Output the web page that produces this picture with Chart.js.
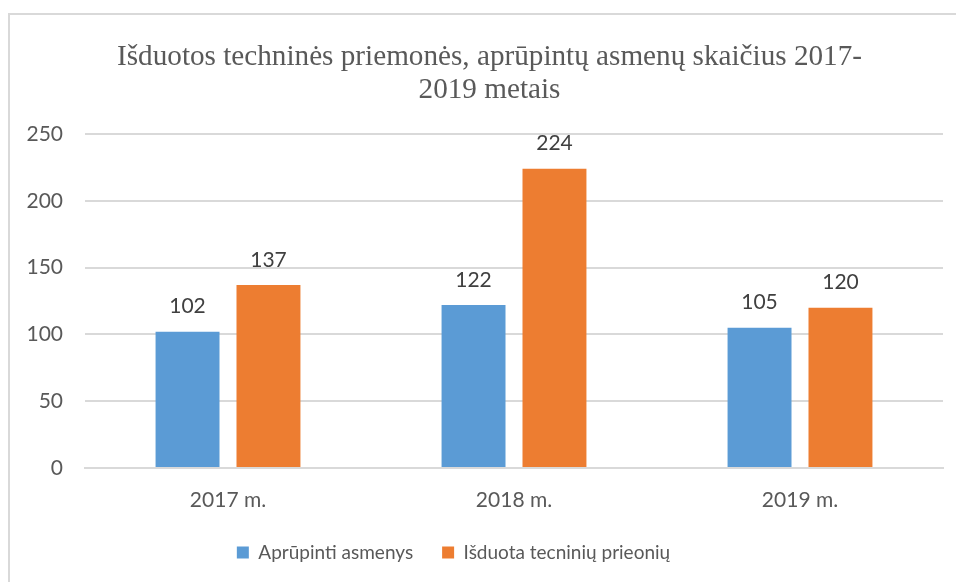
<!DOCTYPE html>
<html>
<head>
<meta charset="utf-8">
<script src="https://cdn.jsdelivr.net/npm/chart.js@4"></script>
<style>
  html, body { margin: 0; padding: 0; background: #fff; }
  #wrap { position: absolute; left: 0; top: 0; width: 956px; height: 582px; }
  #frame { position: absolute; left: 8px; top: 13px; width: 960px; height: 600px;
           border-left: 2px solid #d9d9d9; border-top: 2px solid #d9d9d9; }
</style>
</head>
<body>
<div id="frame"></div>
<div id="wrap"><canvas id="chart" width="956" height="582"></canvas></div>
<script>
const categories = ["2017 m.", "2018 m.", "2019 m."];
const seriesNames = ["Aprūpinti asmenys", "Išduota tecninių prieonių"];
const personsValues = [102, 122, 105];
const itemsValues = [137, 224, 120];
const titleLines = ["Išduotos techninės priemonės, aprūpintų asmenų skaičius 2017-", "2019 metais"];

const labelFont = "Lato, 'Open Sans', sans-serif";
const titleFont = "'Liberation Serif', 'Times New Roman', serif";

// value labels above each bar
const valueLabels = {
    id: "valueLabels",
    afterDatasetsDraw(chart) {
        const ctx = chart.ctx;
        ctx.save();
        ctx.font = "21px " + labelFont;
        ctx.fillStyle = "#404040";
        ctx.textAlign = "center";
        ctx.textBaseline = "middle";
        chart.data.datasets.forEach((ds, i) => {
            chart.getDatasetMeta(i).data.forEach((bar, j) => {
                ctx.fillText(ds.data[j], bar.x, bar.y - 25);
            });
        });
        ctx.restore();
    }
};

// title and legend sit a little off the canvas centre in the original
const boxShift = {
    id: "boxShift",
    afterLayout(chart) {
        chart.legend.left -= 23;
        chart.legend.right -= 23;
        chart.titleBlock.left += 13;
        chart.titleBlock.right += 13;
    }
};

function draw() {
    const ctx = document.getElementById("chart").getContext("2d");
    new Chart(ctx, {
        type: "bar",
        data: {
            labels: categories,
            datasets: [{
                label: seriesNames[0],
                data: personsValues,
                backgroundColor: "#5b9bd5"
            }, {
                label: seriesNames[1],
                data: itemsValues,
                backgroundColor: "#ed7d31"
            }]
        },
        options: {
            responsive: false,
            animation: false,
            devicePixelRatio: 1,
            categoryPercentage: 0.566,
            barPercentage: 0.79,
            layout: { padding: { left: 10, right: 13, top: 0, bottom: 10 } },
            plugins: {
                title: {
                    display: true,
                    text: titleLines,
                    color: "#595959",
                    font: { family: titleFont, size: 29.2, weight: "normal", lineHeight: 1.13 },
                    padding: { top: 41, bottom: 27 }
                },
                legend: {
                    position: "bottom",
                    labels: {
                        color: "#595959",
                        font: { family: labelFont, size: 19 },
                        boxWidth: 12,
                        boxHeight: 12,
                        padding: 29
                    }
                },
                tooltip: { enabled: false }
            },
            scales: {
                x: {
                    grid: { display: false },
                    border: { color: "#d9d9d9", width: 2 },
                    ticks: { color: "#595959", font: { family: labelFont, size: 21 }, padding: 12 },
                    afterFit: (scale) => { scale.height = 46; }
                },
                y: {
                    min: 0,
                    max: 250,
                    ticks: { stepSize: 50, color: "#595959", font: { family: labelFont, size: 21 }, padding: 22 },
                    grid: { color: "#d9d9d9", lineWidth: 2, drawTicks: false },
                    border: { display: false },
                    afterFit: (scale) => { scale.width = 75; }
                }
            }
        },
        plugins: [valueLabels, boxShift]
    });
}

Promise.all([
    document.fonts.load("29px 'Liberation Serif'", titleLines.join(" ")),
    document.fonts.load("21px Lato", "0123456789 m."),
    document.fonts.load("19px Lato", seriesNames.join(" "))
]).then(draw, draw);
</script>
</body>
</html>
